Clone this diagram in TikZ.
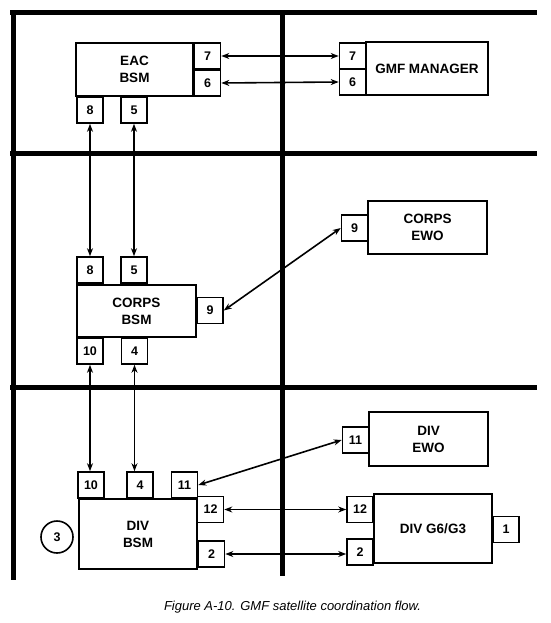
\documentclass[tikz,border=0pt]{standalone}
\usepackage{fontspec}
\setmainfont{Liberation Sans}
\usetikzlibrary{arrows.meta}
\begin{document}
\begin{tikzpicture}[x=1pt,y=-1pt,
  frame/.style={line width=5pt},
  mainbox/.style={draw, line width=1.6pt, inner sep=0pt, align=center,
    font=\bfseries\fontsize{13.5}{17}\selectfont},
  port/.style={draw, line width=1.6pt, inner sep=0pt, minimum width=26pt, minimum height=26pt,
    font=\bfseries\fontsize{12.5}{14}\selectfont},
  arr/.style={line width=1.6pt, {Stealth[length=8pt,width=6pt]}-{Stealth[length=8pt,width=6pt]}}]
\useasboundingbox (0,0) rectangle (550,623);
% frame
\draw[frame] (10,13) -- (537,13);
\draw[frame] (10,153) -- (537,153);
\draw[frame] (10,387) -- (537,387);
\draw[frame] (13,11) -- (13,580);
\draw[frame] (282,11) -- (282,576);
% EAC BSM
\node[mainbox, minimum width=117pt, minimum height=53pt] (eac) at (134.5,69.5) {EAC\\BSM};
\node[port] (eac7) at (207.5,56) {7};
\node[port] (eac6) at (207.5,83) {6};
\node[port] (eac8) at (90,110) {8};
\node[port] (eac5) at (134,110) {5};
% GMF manager
\node[mainbox, minimum width=122pt, minimum height=53pt] (gmf) at (427,68.5) {GMF MANAGER};
\node[port] (gmf7) at (352.5,56) {7};
\node[port] (gmf6) at (352.5,82) {6};
% CORPS BSM
\node[mainbox, minimum width=119pt, minimum height=52pt] (corps) at (136.5,311) {CORPS\\BSM};
\node[port] (c8) at (90,270) {8};
\node[port] (c5) at (134,270) {5};
\node[port] (c9) at (210,310.5) {9};
\node[port] (c10) at (90,351) {10};
\node[port] (c4) at (134.5,351) {4};
% CORPS EWO
\node[mainbox, minimum width=119pt, minimum height=53pt] (cewo) at (427.5,227.5) {CORPS\\EWO};
\node[port] (cewo9) at (354.5,228) {9};
% DIV BSM
\node[mainbox, minimum width=118pt, minimum height=70pt] (div) at (138,534) {DIV\\BSM};
\node[port] (d10) at (91,485) {10};
\node[port] (d4) at (140,485) {4};
\node[port] (d11) at (184.5,485) {11};
\node[port] (d12) at (210.5,509.5) {12};
\node[port] (d2) at (211.5,554) {2};
\node[draw, circle, line width=1.6pt, minimum size=32pt, inner sep=0pt,
  font=\bfseries\fontsize{12.5}{14}\selectfont] (d3) at (57,537) {3};
% DIV EWO
\node[mainbox, minimum width=119pt, minimum height=54pt] (dewo) at (428.5,439) {DIV\\EWO};
\node[port] (dewo11) at (355.5,440) {11};
% DIV G6/G3
\node[mainbox, minimum width=118pt, minimum height=69pt] (g63) at (433,528.5) {DIV G6/G3};
\node[port] (g12) at (360,509.5) {12};
\node[port] (g2) at (360,552) {2};
\node[port] (g1) at (506,529.5) {1};
% connectors
\draw[arr] (eac7.east) -- (gmf7.west);
\draw[arr] (eac6.east) -- (gmf6.west);
\draw[arr] (eac8.south) -- (c8.north);
\draw[arr] (eac5.south) -- (c5.north);
\draw[arr] (c9.east) -- (cewo9.west);
\draw[arr] (c10.south) -- (c10.south |- d10.north);
\draw[arr] (c4.south) -- (c4.south |- d4.north);
\draw[arr] (d11.east) -- (dewo11.west);
\draw[arr] (d12.east) -- (g12.west);
\draw[arr] (d2.east) -- (d2.east -| g2.west);
% caption
\node[font=\itshape\fontsize{13}{15}\selectfont] (cap) at (292.5,607) {Figure A-10. GMF satellite coordination flow.};
\end{tikzpicture}
\end{document}
